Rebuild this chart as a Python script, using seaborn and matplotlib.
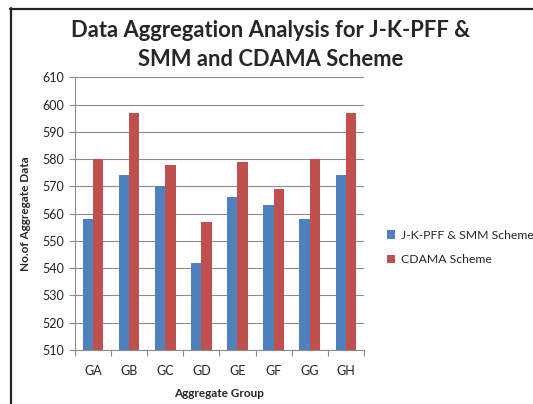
import matplotlib
matplotlib.use("Agg")
import matplotlib.pyplot as plt
import seaborn as sns
import pandas as pd
from matplotlib.lines import Line2D
from matplotlib.patches import Patch

groups = ["GA", "GB", "GC", "GD", "GE", "GF", "GG", "GH"]
jk_pff_smm = [558, 574, 570, 542, 566, 563, 558, 574]
cdama = [580, 597, 578, 557, 579, 569, 580, 597]
series_names = ["J-K-PFF & SMM Scheme", "CDAMA Scheme"]
yticks = [510, 520, 530, 540, 550, 560, 570, 580, 590, 600, 610]

df = pd.DataFrame({
    "group": groups * 2,
    "value": jk_pff_smm + cdama,
    "series": [series_names[0]] * len(groups) + [series_names[1]] * len(groups),
})

sns.set_theme(style="white")
plt.rcParams["font.family"] = ["Lato", "DejaVu Sans"]

colors = ["#4F81BD", "#C0504D"]
fig = plt.figure(figsize=(5.33, 4.04), dpi=100)
ax = fig.add_axes([0.1407, 0.1337, 0.542, 0.675])

sns.barplot(data=df, x="group", y="value", hue="series", palette=colors,
            width=0.57, ax=ax, legend=False, saturation=1, linewidth=0)

ax.set_ylim(510, 610)
ax.set_yticks(yticks)
ax.set_xlim(-0.5, len(groups) - 0.5)
ax.yaxis.grid(True, color="#8c8c8c", linewidth=0.8)
ax.set_axisbelow(True)
for s in ["top", "right"]:
    ax.spines[s].set_visible(False)
for s in ["left", "bottom"]:
    ax.spines[s].set_color("#8c8c8c")
    ax.spines[s].set_linewidth(0.8)

ax.tick_params(axis="y", which="major", length=4, color="#8c8c8c", width=0.8,
               labelsize=9, labelcolor="#222222", left=True, pad=4)
ax.tick_params(axis="x", which="major", length=0, labelsize=9, labelcolor="#222222", pad=11)
ax.set_xticks([i - 0.5 for i in range(len(groups) + 1)], minor=True)
ax.tick_params(axis="x", which="minor", length=4, color="#8c8c8c", width=0.8, bottom=True)

ax.set_xlabel("Aggregate Group", fontsize=8.5, fontweight="bold", labelpad=8)
ax.set_ylabel("No.of Aggregate Data", fontsize=8.5, fontweight="bold", labelpad=8)

fig.text(0.507, 0.888, "Data Aggregation Analysis for J-K-PFF &\nSMM and CDAMA Scheme",
         ha="center", va="center", fontsize=15.8, fontweight="bold", linespacing=1.45)

handles = [Patch(facecolor=c, edgecolor="none") for c in colors]
fig.legend(handles, series_names, loc="center left", bbox_to_anchor=(0.705, 0.387),
           frameon=False, fontsize=8.8, handlelength=0.7, handleheight=0.7,
           handletextpad=0.5, labelspacing=1.1)

# chart frame (top and left edges visible)
W, H = 533, 404
fig.add_artist(Line2D([10.5 / W, 10.5 / W], [0, 1 - 8 / H], transform=fig.transFigure,
                      color="#222222", linewidth=1.6))
fig.add_artist(Line2D([10 / W, 1], [1 - 8.5 / H, 1 - 8.5 / H], transform=fig.transFigure,
                      color="#222222", linewidth=1.6))

fig.savefig("out.png", dpi=100, facecolor="white")
